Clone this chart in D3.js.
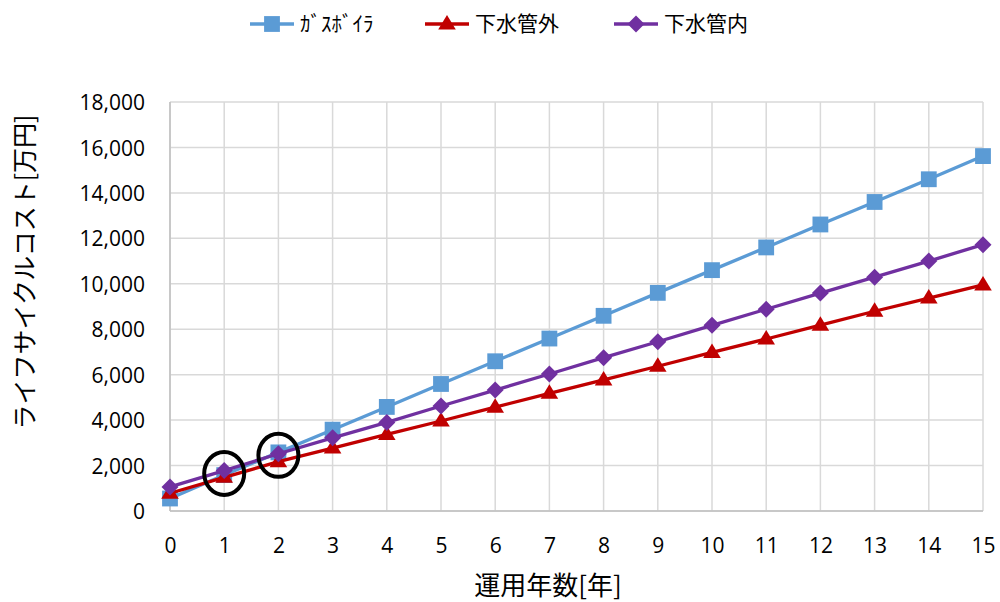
<!DOCTYPE html>
<html><head><meta charset="utf-8">
<script src="https://cdn.jsdelivr.net/npm/d3@7"></script>
<style>body{margin:0;background:#fff}svg{display:block}</style>
</head><body>
<svg id="c" width="1000" height="602"></svg>
<script>
const years = [0,1,2,3,4,5,6,7,8,9,10,11,12,13,14,15];
const seriesNames = ["ｶﾞｽﾎﾞｲﾗ","下水管外","下水管内"];
const gasBoiler = [550,1580,2580,3580,4580,5590,6590,7590,8590,9600,10600,11600,12610,13600,14600,15620];
const sewerOuter = [780,1480,2170,2770,3370,3960,4570,5180,5770,6370,6980,7570,8180,8790,9370,9950];
const sewerInner = [1060,1780,2520,3220,3900,4620,5320,6030,6750,7450,8170,8880,9590,10290,11000,11720];
const yTicks = [0,2000,4000,6000,8000,10000,12000,14000,16000,18000];
const highlights = [{year:1, value:1650},{year:2, value:2450}];
const colors = ["#5B9BD5","#C00000","#7030A0"];

const svg = d3.select("#c");
const x = d3.scaleLinear().domain([0,15]).range([170,983]);
const y = d3.scaleLinear().domain([0,18000]).range([511,102]);
const font = "'Open Sans', sans-serif";
const jfont = "'Noto Sans CJK JP', sans-serif";

// grid
svg.append("g").selectAll("line").data(yTicks).join("line")
  .attr("x1",x(0)).attr("x2",x(15)).attr("y1",d=>y(d)).attr("y2",d=>y(d))
  .attr("stroke","#d9d9d9").attr("stroke-width",1.5);
svg.append("g").selectAll("line").data(years).join("line")
  .attr("x1",d=>x(d)).attr("x2",d=>x(d)).attr("y1",y(0)).attr("y2",y(18000))
  .attr("stroke","#d9d9d9").attr("stroke-width",1.5);
svg.append("line").attr("x1",x(0)).attr("x2",x(15)).attr("y1",y(0)).attr("y2",y(0)).attr("stroke","#bfbfbf").attr("stroke-width",1.5);
svg.append("line").attr("x1",x(0)).attr("x2",x(0)).attr("y1",y(0)).attr("y2",y(18000)).attr("stroke","#bfbfbf").attr("stroke-width",1.5);

// axes labels
const fmt = d3.format(",");
const yAxis = d3.axisLeft(y).tickValues(yTicks).tickFormat(fmt).tickSize(0).tickPadding(25);
const gy = svg.append("g").attr("transform",`translate(${x(0)},0)`).call(yAxis);
gy.select(".domain").remove();
gy.selectAll("text").attr("font-family",font).attr("font-size",21).attr("fill","#000").attr("dy","0.36em");
const xAxis = d3.axisBottom(x).tickValues(years).tickFormat(d3.format("d")).tickSize(0).tickPadding(42);
const gx = svg.append("g").attr("transform",`translate(0,${y(0)})`).call(xAxis);
gx.select(".domain").remove();
gx.selectAll("text").attr("font-family",font).attr("font-size",21).attr("fill","#000").attr("dy","0");

svg.append("text").attr("x",548).attr("y",595).attr("text-anchor","middle")
  .attr("font-family",jfont).attr("font-size",26).text("運用年数[年]");
svg.append("text").attr("transform","translate(34,272) rotate(-90)").attr("text-anchor","middle")
  .attr("font-family",jfont).attr("font-size",25).text("ライフサイクルコスト[万円]");

// series
const data = [gasBoiler, sewerOuter, sewerInner];
const line = d3.line().x((d,i)=>x(years[i])).y(d=>y(d));
const square = d3.symbol(d3.symbolSquare,250)();
const triangle = "M0,-9L8.8,5.5L-8.8,5.5Z";
const diamond = "M0,-8.5L8.5,0L0,8.5L-8.5,0Z";
const shapes = [square, triangle, diamond];
data.forEach((vals,k)=>{
  svg.append("path").datum(vals).attr("d",line).attr("fill","none")
    .attr("stroke",colors[k]).attr("stroke-width",3.3);
  svg.append("g").selectAll("path").data(vals).join("path")
    .attr("transform",(d,i)=>`translate(${x(years[i])},${y(d)})`)
    .attr("d",shapes[k]).attr("fill",colors[k]);
});

// highlight circles
svg.append("g").selectAll("ellipse").data(highlights).join("ellipse")
  .attr("cx",d=>x(d.year)).attr("cy",d=>y(d.value)).attr("rx",20).attr("ry",21.5)
  .attr("fill","none").attr("stroke","#000").attr("stroke-width",4);

// legend
const legX = [250,425,614];
const lg = svg.append("g");
seriesNames.forEach((n,k)=>{
  const g = lg.append("g").attr("transform",`translate(${legX[k]},24)`);
  g.append("line").attr("x1",0).attr("x2",44).attr("stroke",colors[k]).attr("stroke-width",3.3);
  g.append("path").attr("transform","translate(22,0)").attr("d",shapes[k]).attr("fill",colors[k]);
  g.append("text").attr("x",50).attr("y",0).attr("dy","0.35em").attr("font-family",jfont).attr("font-size",21).text(n);
});
</script>
</body></html>
